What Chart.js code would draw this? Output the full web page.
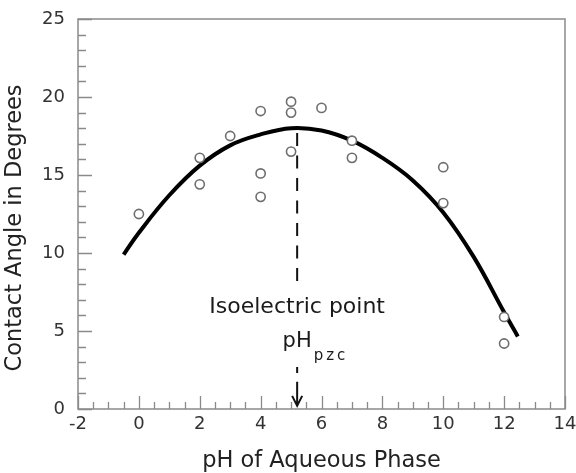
<!DOCTYPE html>
<html>
<head>
<meta charset="utf-8">
<script src="https://cdn.jsdelivr.net/npm/chart.js@4/dist/chart.umd.min.js"></script>
<style>
  html, body { margin: 0; padding: 0; background: #fff; }
  #wrap { width: 576px; height: 473px; }
</style>
</head>
<body>
<div id="wrap"><canvas id="contact-chart"></canvas></div>
<script>
// measured contact angles (open circles)
const phMeasured    = [0, 2, 2, 3, 4, 4, 4, 5, 5, 5, 6, 7, 7, 10, 10, 12, 12];
const angleMeasured = [12.5, 16.1, 14.4, 17.5, 19.1, 15.1, 13.6, 19.7, 19.0, 16.5, 19.3, 17.2, 16.1, 15.5, 13.2, 5.9, 4.2];

// fitted trend (thick line)
const fitPh    = [-0.5, 0, 1, 2, 3, 4, 5, 6, 7, 8, 9, 10, 11, 12, 12.45];
const fitAngle = [9.9, 11.3, 13.7, 15.6, 16.9, 17.6, 18.0, 17.85, 17.2, 16.1, 14.65, 12.6, 9.75, 6.2, 4.65];

const xTicks = [-2, 0, 2, 4, 6, 8, 10, 12, 14];
const yTicks = [0, 5, 10, 15, 20, 25];

const pzc = 5.2;   // isoelectric point
const xTitle = 'pH of Aqueous Phase';
const yTitle = 'Contact Angle in Degrees';

const FONT = '"DejaVu Sans", sans-serif';
const frameColor = '#8a8a8a';

// box frame with inward ticks, minor every 0.5 pH / 1 degree
const frameTicks = {
  id: 'frameTicks',
  beforeDatasetsDraw(chart) {
    const {ctx, chartArea: a, scales: {x, y}} = chart;
    ctx.save();
    ctx.strokeStyle = frameColor;
    ctx.lineWidth = 1.5;
    ctx.strokeRect(a.left, a.top, a.right - a.left, a.bottom - a.top);
    ctx.lineWidth = 1.3;
    ctx.beginPath();
    for (let v = x.min; v <= x.max + 1e-9; v += 0.5) {
      const px = Math.round(x.getPixelForValue(v)) + 0.5;
      const len = Math.abs(v % 2) < 1e-9 ? 13 : 7;
      ctx.moveTo(px, a.bottom);
      ctx.lineTo(px, a.bottom - len);
    }
    for (let v = y.min; v <= y.max + 1e-9; v += 1) {
      const py = Math.round(y.getPixelForValue(v)) + 0.5;
      const len = v % 5 === 0 ? 14 : 8;
      ctx.moveTo(a.left, py);
      ctx.lineTo(a.left + len, py);
    }
    ctx.stroke();
    ctx.restore();
  }
};

// dashed marker at the point of zero charge, with its label and arrow
const pzcMarker = {
  id: 'pzcMarker',
  afterDatasetsDraw(chart) {
    const {ctx, scales: {x, y}} = chart;
    const px = x.getPixelForValue(pzc);
    ctx.save();
    ctx.strokeStyle = '#111';
    ctx.lineWidth = 2;
    ctx.setLineDash([13, 9.5]);
    ctx.beginPath();
    ctx.moveTo(px, y.getPixelForValue(17.7));
    ctx.lineTo(px, y.getPixelForValue(8.1));
    ctx.stroke();

    ctx.setLineDash([]);
    ctx.beginPath();
    ctx.moveTo(px, y.getPixelForValue(2.7));
    ctx.lineTo(px, y.getPixelForValue(2.3));
    ctx.moveTo(px, y.getPixelForValue(1.75));
    ctx.lineTo(px, y.getPixelForValue(0.25));
    const tip = y.getPixelForValue(0.2);
    ctx.moveTo(px - 5, tip - 10);
    ctx.lineTo(px, tip);
    ctx.lineTo(px + 5, tip - 10);
    ctx.stroke();

    ctx.fillStyle = '#1a1a1a';
    ctx.textBaseline = 'alphabetic';
    ctx.font = '22px ' + FONT;
    ctx.textAlign = 'center';
    ctx.fillText('Isoelectric point', px, y.getPixelForValue(6.15));
    ctx.font = '21px ' + FONT;
    const w = ctx.measureText('pH').width;
    ctx.fillText('pH', px, y.getPixelForValue(4.0));
    ctx.font = '15px ' + FONT;
    ctx.textAlign = 'left';
    if ('letterSpacing' in ctx) ctx.letterSpacing = '3px';
    ctx.fillText('pzc', px + w / 2 + 2, y.getPixelForValue(3.15));
    ctx.restore();
  }
};

// rotated y-axis title
const angleTitle = {
  id: 'angleTitle',
  afterDraw(chart) {
    const {ctx, chartArea: a} = chart;
    ctx.save();
    ctx.translate(15, (a.top + a.bottom) / 2 + 14);
    ctx.rotate(-Math.PI / 2);
    ctx.font = '22.5px ' + FONT;
    ctx.fillStyle = '#222';
    ctx.textAlign = 'center';
    ctx.textBaseline = 'middle';
    ctx.fillText(yTitle, 0, 0);
    ctx.restore();
  }
};

new Chart(document.getElementById('contact-chart'), {
  type: 'scatter',
  data: {
    datasets: [
      {
        label: 'Measured',
        order: 0,
        data: phMeasured.map((ph, i) => ({x: ph, y: angleMeasured[i]})),
        pointRadius: 4.6,
        pointBorderWidth: 1.6,
        pointBorderColor: '#6e6e6e',
        pointBackgroundColor: '#fff',
      },
      {
        label: 'Fit',
        order: 1,
        data: fitPh.map((ph, i) => ({x: ph, y: fitAngle[i]})),
        showLine: true,
        borderColor: '#000',
        borderWidth: 4,
        borderCapStyle: 'butt',
        tension: 0.4,
        pointRadius: 0,
      },
    ],
  },
  options: {
    responsive: true,
    maintainAspectRatio: false,
    animation: false,
    events: [],
    layout: { padding: { top: 19, right: 11, left: 0, bottom: 0 } },
    plugins: {
      legend: { display: false },
      tooltip: { enabled: false },
    },
    scales: {
      x: {
        type: 'linear',
        min: -2,
        max: 14,
        afterBuildTicks: s => { s.ticks = xTicks.map(v => ({value: v})); },
        afterFit: s => { s.height = 64; s.paddingLeft = 0; s.paddingRight = 0; },
        grid: { display: false, drawTicks: false },
        border: { display: false },
        ticks: {
          autoSkip: false,
          maxRotation: 0,
          padding: 5,
          color: '#333',
          font: { family: FONT, size: 18 },
        },
        title: {
          display: true,
          text: xTitle,
          color: '#222',
          font: { family: FONT, size: 22.5 },
          padding: { top: 0, bottom: -2 },
        },
      },
      y: {
        type: 'linear',
        min: 0,
        max: 25,
        afterBuildTicks: s => { s.ticks = yTicks.map(v => ({value: v})); },
        afterFit: s => { s.width = 78; s.paddingTop = 0; s.paddingBottom = 0; },
        grid: { display: false, drawTicks: false },
        border: { display: false },
        ticks: {
          padding: 13,
          color: '#333',
          font: { family: FONT, size: 18 },
        },
      },
    },
  },
  plugins: [frameTicks, pzcMarker, angleTitle],
});
</script>
</body>
</html>
